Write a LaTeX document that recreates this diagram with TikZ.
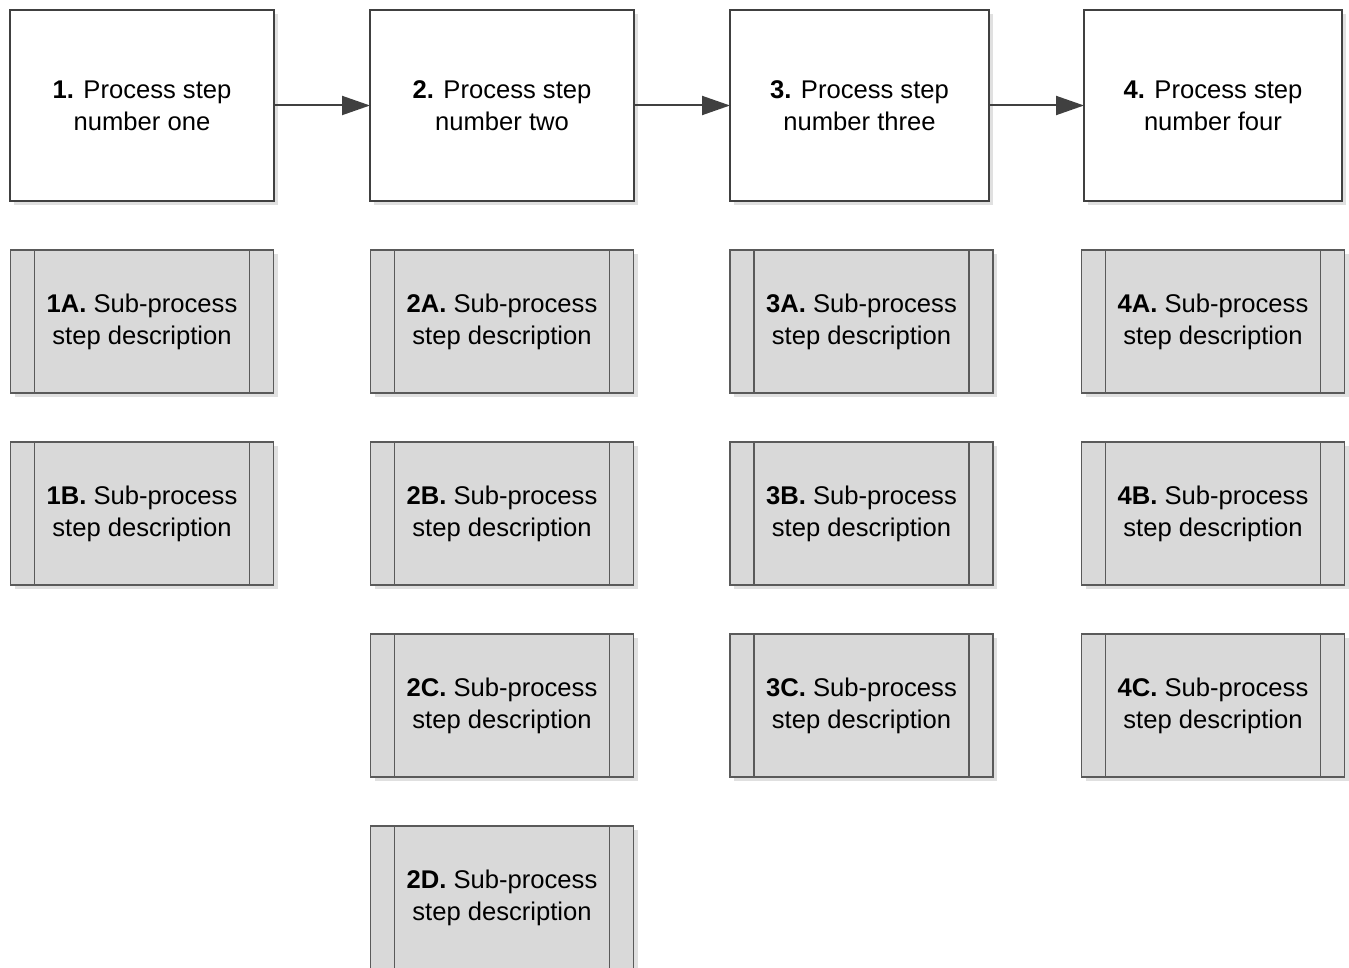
\documentclass[tikz,border=0pt]{standalone}
\usepackage{fontspec}
\setmainfont{Liberation Sans}
\usetikzlibrary{arrows.meta,positioning,shadows}
\definecolor{boxline}{HTML}{404040}
\definecolor{subfill}{HTML}{D9D9D9}
\definecolor{subline}{HTML}{5A5A5A}
\definecolor{shade}{HTML}{E0E0E0}

\begin{document}
\begin{tikzpicture}[x=0.5pt,y=-0.5pt,->,>={Triangle[length=14pt,width=9.5pt]},
                    node distance=24.5pt,font=\fontsize{12.8}{16}\selectfont]
  \tikzstyle{every edge}=[draw=boxline,line width=1pt]
  \tikzstyle{main}=[draw=boxline,line width=1.2pt,fill=white,align=center,
                    minimum height=95.5pt,outer sep=0pt,
                    drop shadow={shadow xshift=2pt,shadow yshift=-2pt,fill=shade,opacity=1}]
  \tikzstyle{sub}=[draw=subline,line width=0.7pt,fill=subfill,align=center,
                   minimum width=131.5pt,minimum height=71.5pt,outer sep=0pt,
                   drop shadow={shadow xshift=2pt,shadow yshift=-2pt,fill=shade,opacity=1},
                   path picture={\draw[-,subline,line width=0.7pt]
                     ([xshift=12pt]path picture bounding box.north west) -- ([xshift=12pt]path picture bounding box.south west)
                     ([xshift=-12pt]path picture bounding box.north east) -- ([xshift=-12pt]path picture bounding box.south east);}]

  \useasboundingbox (0,0) rectangle (1349,968);

  \node[main,minimum width=132pt]   (P1) at (142,105.5)  {\textbf{1.} Process step\\number one};
  \node[main,minimum width=132pt]   (P2) [right=48pt of P1] {\textbf{2.} Process step\\number two};
  \node[main,minimum width=129.5pt] (P3) [right=48pt of P2] {\textbf{3.} Process step\\number three};
  \node[main,minimum width=129pt]   (P4) [right=47.5pt of P3] {\textbf{4.} Process step\\number four};

  \node[sub] (S1A) [below=of P1]  {\textbf{1A.} Sub-process\\step description};
  \node[sub] (S1B) [below=of S1A] {\textbf{1B.} Sub-process\\step description};

  \node[sub] (S2A) [below=of P2]  {\textbf{2A.} Sub-process\\step description};
  \node[sub] (S2B) [below=of S2A] {\textbf{2B.} Sub-process\\step description};
  \node[sub] (S2C) [below=of S2B] {\textbf{2C.} Sub-process\\step description};
  \node[sub] (S2D) [below=of S2C] {\textbf{2D.} Sub-process\\step description};

  \node[sub] (S3A) [below=of P3,xshift=1pt] {\textbf{3A.} Sub-process\\step description};
  \node[sub] (S3B) [below=of S3A] {\textbf{3B.} Sub-process\\step description};
  \node[sub] (S3C) [below=of S3B] {\textbf{3C.} Sub-process\\step description};

  \node[sub] (S4A) [below=of P4]  {\textbf{4A.} Sub-process\\step description};
  \node[sub] (S4B) [below=of S4A] {\textbf{4B.} Sub-process\\step description};
  \node[sub] (S4C) [below=of S4B] {\textbf{4C.} Sub-process\\step description};

  \path (P1) edge (P2)
        (P2) edge (P3)
        (P3) edge (P4);
\end{tikzpicture}
\end{document}
